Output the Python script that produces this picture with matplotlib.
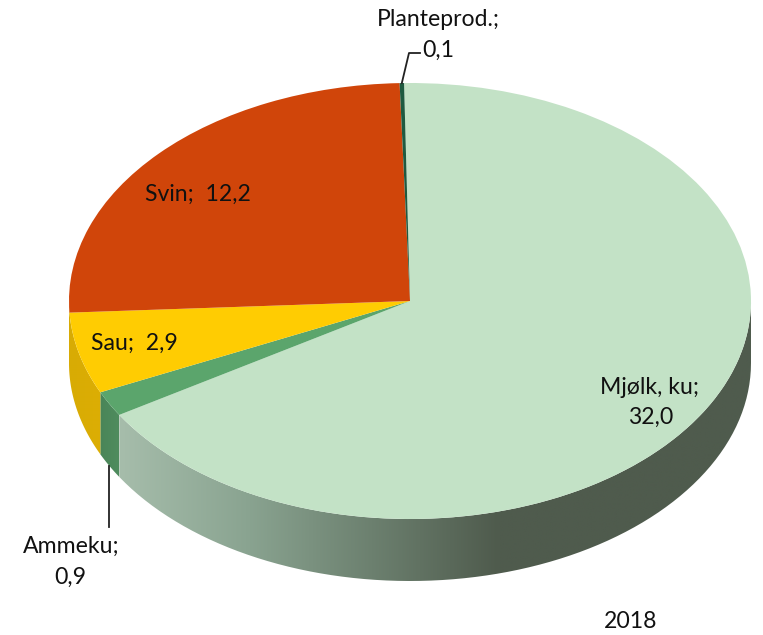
import numpy as np
import matplotlib
matplotlib.use('Agg')
import matplotlib.pyplot as plt
from matplotlib.colors import LinearSegmentedColormap
from matplotlib.path import Path
from matplotlib.patches import PathPatch

# Kategorier og verdier, 2018
categories = ['Mjølk, ku', 'Ammeku', 'Sau', 'Svin', 'Planteprod.']
values = [32.0, 0.9, 2.9, 12.2, 0.1]
value_labels = ['32,0', '0,9', '2,9', '12,2', '0,1']
colors = ['#c3e2c6', '#5ba56c', '#ffcc02', '#d0450a', '#1f5a40']
year = '2018'

W, H = 763, 635
CX, CY = 410, 301      # pie centre in pixels
RX, RY = 341, 218      # ellipse radii in pixels
DEPTH = 62 / RY        # wall height, in y units of the pie
START = 91

plt.rcParams['font.family'] = ['Lato', 'DejaVu Sans']


def px(x, y):
    # pixel position in the picture -> axes data
    return (x - CX) / RX, (CY - y) / RY


def wall(a0, a1, ax, cmap_colors, x_range=None):
    # side wall under the rim between a0 and a1 (degrees, a0 > a1)
    t = np.radians(np.linspace(a0, a1, 80))
    xs = np.cos(t)
    ys = np.sin(t)
    verts = np.concatenate([np.c_[xs, ys], np.c_[xs[::-1], ys[::-1] - DEPTH]])
    verts = np.vstack([verts, verts[0]])
    codes = [Path.MOVETO] + [Path.LINETO] * (len(verts) - 2) + [Path.CLOSEPOLY]
    patch = PathPatch(Path(verts, codes), facecolor='none', edgecolor='none')
    ax.add_patch(patch)
    cmap = LinearSegmentedColormap.from_list('w', cmap_colors)
    x0, x1 = x_range if x_range else (xs.min(), xs.max())
    grad = np.linspace(0, 1, 256).reshape(1, -1)
    im = ax.imshow(grad, extent=(x0, x1, ys.min() - DEPTH - 0.01, ys.max() + 0.01),
                   cmap=cmap, aspect='auto', zorder=1, interpolation='bilinear')
    im.set_clip_path(patch)


fig = plt.figure(figsize=(W / 100, H / 100), dpi=100)
ax = fig.add_axes([0, 0, 1, 1])

wedges, _ = ax.pie(values, colors=colors, startangle=START, counterclock=False,
                   radius=1, wedgeprops={'linewidth': 0, 'zorder': 3})

angles = START - np.cumsum([0] + values) / sum(values) * 360

# walls, only the part of the rim that faces the viewer
wall(0, angles[1], ax, ['#a6bdab', '#8aa491', '#6c806f', '#4f5b4d', '#4f5b4d', '#4f5b4d'],
     x_range=(np.cos(np.radians(angles[1])), 1))
wall(angles[1], angles[2], ax, ['#4a8558', '#4f8c5e'])
wall(angles[2], -180, ax, ['#d8ab04', '#dcae04'])

ax.set_xlim(-CX / RX, (W - CX) / RX)
ax.set_ylim((CY - H) / RY, CY / RY)
ax.set_aspect('auto')
ax.axis('off')

# leader lines start at the slice they belong to
mid_plante = np.radians((angles[4] + angles[5]) / 2)
x_p, y_p = np.cos(mid_plante), np.sin(mid_plante)
ax.plot([x_p, px(409, 53)[0], px(420, 53)[0]], [y_p, px(409, 53)[1], px(420, 53)[1]],
        color='#222222', lw=1.3, zorder=5)

mid_amme = np.radians((angles[1] + angles[2]) / 2)
x_a, y_a = np.cos(mid_amme), np.sin(mid_amme) - DEPTH
ax.plot([x_a, x_a], [y_a, px(110, 527)[1]], color='#222222', lw=1.3, zorder=5)

FS = 16.6
TC = '#111111'


def label(x, y, s):
    ax.text(*px(x, y), s, fontsize=FS, color=TC, ha='center', va='center', zorder=6)


label(650, 388, categories[0] + ';')
label(651, 417, value_labels[0])
label(71, 546, categories[1] + ';')
label(70, 577, value_labels[1])
label(134, 343, categories[2] + ';  ' + value_labels[2])
label(198, 194, categories[3] + ';  ' + value_labels[3])
label(438, 19, categories[4] + ';')
label(438, 50, value_labels[4])
label(631, 622, year)

fig.savefig('out.png', dpi=100)
